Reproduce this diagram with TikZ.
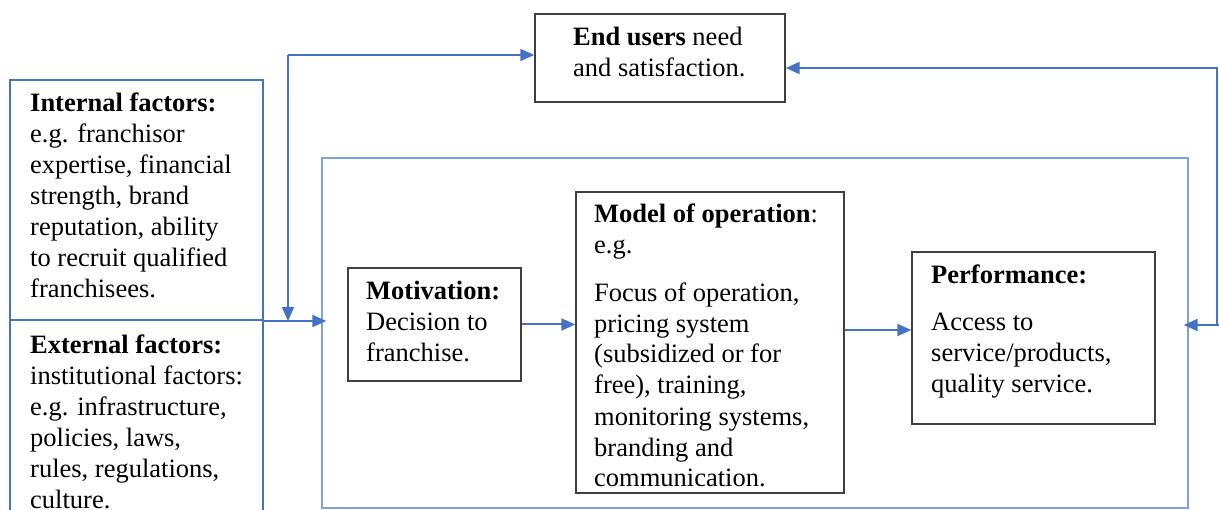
\documentclass[tikz,border=0pt]{standalone}
\usepackage{fontspec}
\setmainfont{Liberation Serif}
\usetikzlibrary{arrows.meta}
\definecolor{lb}{HTML}{4472C4}
\definecolor{cb}{HTML}{7FA0DA}
\definecolor{bx}{HTML}{404040}
\begin{document}
\begin{tikzpicture}[x=1pt,y=-1pt,
 arr/.style={draw=lb,line width=2pt,-{Triangle[length=14pt,width=12pt]}},
 bbox/.style={draw=lb,line width=2pt,rectangle,inner sep=0pt},
 cbox/.style={draw=cb,line width=1.3pt,rectangle,inner sep=0pt},
 gbox/.style={draw=bx,line width=1.4pt,rectangle,inner sep=0pt},
 txt/.style={anchor=base west,inner sep=0pt,align=left,font=\fontsize{26.5}{31}\selectfont},
]
\useasboundingbox (0,0) rectangle (1219,510);
\node[bbox, minimum width=253pt, minimum height=240pt] (intl) at (136.5,200) {};
\node[bbox, minimum width=253pt, minimum height=220pt] (extl) at (136.5,430) {};
\node[cbox, minimum width=866pt, minimum height=350pt] (cont) at (755,333) {};
\node[gbox, minimum width=250pt, minimum height=88pt] (end) at (660,58) {};
\node[gbox, minimum width=173pt, minimum height=113pt] (mot) at (434.5,324.5) {};
\node[gbox, minimum width=268pt, minimum height=301pt] (model) at (710,342.5) {};
\node[gbox, minimum width=243pt, minimum height=172pt] (perf) at (1033.5,338) {};

% anchors are on the baseline of the last line
\node[txt] (intlt) at (30,298) {\textbf{Internal factors:}\\e.g. franchisor\\expertise, financial\\strength, brand\\reputation, ability\\to recruit qualified\\franchisees.};
\node[txt] (extlt) at (30,508) {\textbf{External factors:}\\institutional factors:\\e.g. infrastructure,\\policies, laws,\\rules, regulations,\\culture.};
\node[txt] (endt) at (573,77) {\textbf{End users} need\\and satisfaction.};
\node[txt] (mott) at (366,362) {\textbf{Motivation:}\\Decision to\\franchise.};
\node[txt] (modelt) at (594,487) {\textbf{Model of operation}:\\e.g.\\[17pt]Focus of operation,\\pricing system\\(subsidized or for\\free), training,\\monitoring systems,\\branding and\\communication.};
\node[txt] (perft) at (931,393) {\textbf{Performance:}\\[16pt]Access to\\service/products,\\quality service.};

\coordinate (jn) at (intl.south east);
\coordinate (tc) at (288,55);
\coordinate (r1) at (1217,68);
\coordinate (r2) at (1217,325);
\draw[arr] (jn) -- ([xshift=5pt]cont.west |- jn);
\draw[arr] (tc) -- (tc |- jn);
\draw[arr] (tc) -- (end.west |- tc);
\draw[arr] (r2) -- (r1) -- (end.east |- r1);
\draw[arr] ([xshift=2pt]r2) -- ([xshift=-5pt]cont.east |- r2);
\draw[arr] (mot.east) -- (model.west |- mot.east);
\draw[arr] (model.east |- 0,330) -- (perf.west |- 0,330);
\end{tikzpicture}
\end{document}
